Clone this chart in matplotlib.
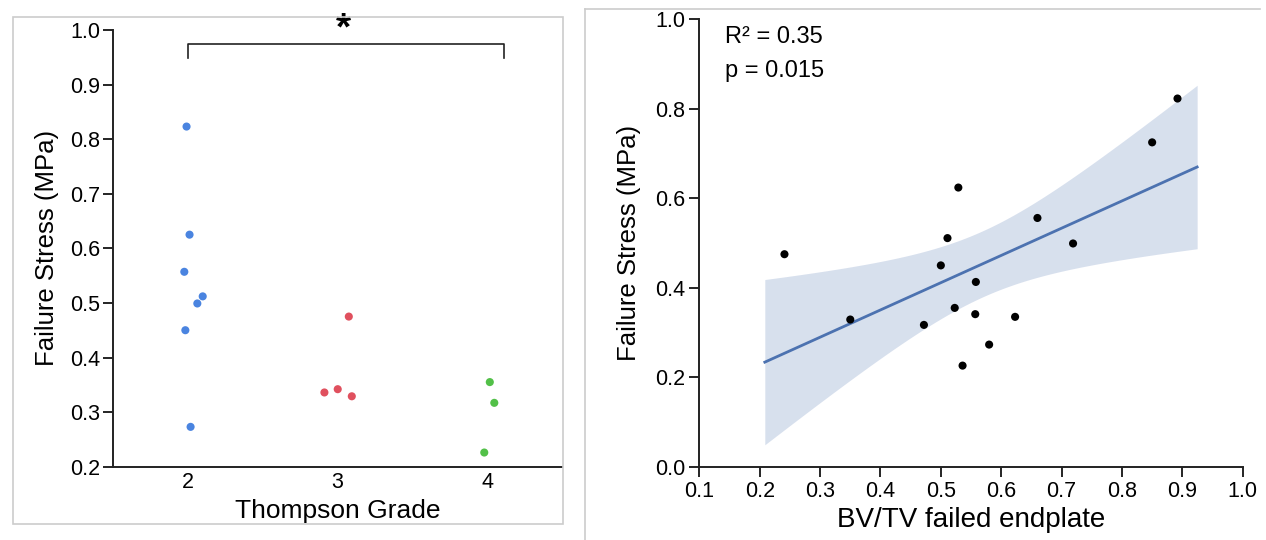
import numpy as np
import matplotlib
matplotlib.use("Agg")
import matplotlib.pyplot as plt
from matplotlib.patches import Rectangle
from matplotlib.lines import Line2D

plt.rcParams['font.family'] = ['Liberation Sans', 'DejaVu Sans']

# Left panel: failure stress per Thompson grade (with horizontal jitter)
grades = [2, 3, 4]
grade_colors = ['#4a84e0', '#e0505e', '#52c048']
stress_by_grade = [
    [0.823, 0.625, 0.557, 0.512, 0.499, 0.450, 0.273],
    [0.475, 0.336, 0.342, 0.329],
    [0.355, 0.317, 0.226],
]
jitter_by_grade = [
    [-0.009, 0.011, -0.024, 0.099, 0.063, -0.017, 0.018],
    [0.075, -0.088, 0.001, 0.095],
    [0.017, 0.047, -0.020],
]

# Right panel: BV/TV of failed endplate vs failure stress
bvtv = [0.241, 0.350, 0.472, 0.500, 0.511, 0.523, 0.529, 0.536,
        0.557, 0.558, 0.580, 0.623, 0.660, 0.719, 0.850, 0.892]
stress = [0.475, 0.329, 0.317, 0.450, 0.511, 0.355, 0.624, 0.226,
          0.341, 0.413, 0.273, 0.335, 0.556, 0.499, 0.725, 0.823]
stats_text = ["R\u00b2 = 0.35", "p = 0.015"]

fig = plt.figure(figsize=(12.66, 5.4), dpi=100)

# ---- left panel
ax1 = fig.add_axes([0.0893, 0.1357, 0.3547, 0.8089])
for g, vals, jit, c in zip(grades, stress_by_grade, jitter_by_grade, grade_colors):
    xs = np.array(jit) + g
    ax1.scatter(xs, vals, s=34, color=c, edgecolors='none', zorder=3)
ax1.set_xlim(1.5, 4.5)
ax1.set_ylim(0.2, 1.0)
ax1.set_xticks(grades)
ax1.set_yticks(np.arange(0.2, 1.01, 0.1))
ax1.set_yticklabels([f"{v:.1f}" for v in np.arange(0.2, 1.01, 0.1)])
ax1.tick_params(axis='x', length=0, pad=4, labelsize=15.5)
ax1.tick_params(axis='y', length=7, width=1.2, pad=2, labelsize=15.5)
for side in ['top', 'right']:
    ax1.spines[side].set_visible(False)
for side in ['left', 'bottom']:
    ax1.spines[side].set_linewidth(1.4)
    ax1.spines[side].set_color('#222222')
ax1.set_xlabel("Thompson Grade", fontsize=19, labelpad=4)
ax1.set_ylabel("Failure Stress (MPa)", fontsize=18.5, labelpad=8)

# significance bracket between grade 2 and grade 4
ax1.plot([2.0, 2.0, 4.11, 4.11], [0.948, 0.974, 0.974, 0.948],
         color='#222222', lw=1.2, clip_on=False)
ax1.text(3.04, 1.0, "*", fontsize=28, fontweight='bold', ha='center',
         va='center', clip_on=False)

# ---- right panel
ax2 = fig.add_axes([0.5524, 0.1357, 0.4292, 0.8285])
x = np.array(bvtv)
y = np.array(stress)
n = len(x)
slope, intercept = np.polyfit(x, y, 1)
pad = 0.05 * (x.max() - x.min())
xf = np.linspace(x.min() - pad, x.max() + pad, 100)
yf = intercept + slope * xf
resid = y - (intercept + slope * x)
s_err = np.sqrt(np.sum(resid ** 2) / (n - 2))
sxx = np.sum((x - x.mean()) ** 2)
t_crit = 2.145  # t(0.975, df=14)
half = t_crit * s_err * np.sqrt(1.0 / n + (xf - x.mean()) ** 2 / sxx)
ax2.fill_between(xf, yf - half, yf + half, color='#4c72b0', alpha=0.22,
                 lw=0, zorder=1)
ax2.plot(xf, yf, color='#4c72b0', lw=2, zorder=2)
ax2.scatter(x, y, s=34, color='black', edgecolors='none', zorder=3)

ax2.set_xlim(0.1, 1.0)
ax2.set_ylim(0.0, 1.0)
ax2.set_xticks(np.arange(0.1, 1.01, 0.1))
ax2.set_xticklabels([f"{v:.1f}" for v in np.arange(0.1, 1.01, 0.1)])
ax2.set_yticks(np.arange(0.0, 1.01, 0.2))
ax2.set_yticklabels([f"{v:.1f}" for v in np.arange(0.0, 1.01, 0.2)])
ax2.tick_params(axis='both', length=7, width=1.2, pad=3, labelsize=15.5)
for side in ['top', 'right']:
    ax2.spines[side].set_visible(False)
for side in ['left', 'bottom']:
    ax2.spines[side].set_linewidth(1.4)
    ax2.spines[side].set_color('#222222')
ax2.set_xlabel("BV/TV failed endplate", fontsize=20, labelpad=4)
ax2.set_ylabel("Failure Stress (MPa)", fontsize=18.5, labelpad=10)
ax2.text(0.142, 0.946, stats_text[0], fontsize=17, va='baseline', ha='left')
ax2.text(0.142, 0.872, stats_text[1], fontsize=17, va='baseline', ha='left')

# light panel frames
fig.add_artist(Rectangle((0.0099, 0.0296), 0.4348, 0.9383, transform=fig.transFigure,
                         fill=False, edgecolor='#cccccc', lw=1.2))
fig.add_artist(Line2D([0.4621, 0.9953], [0.9828, 0.9828], transform=fig.transFigure,
                      color='#cccccc', lw=1.2))
fig.add_artist(Line2D([0.4621, 0.4621], [0.0, 0.9828], transform=fig.transFigure,
                      color='#cccccc', lw=1.2))

fig.savefig("out.png", dpi=100)
